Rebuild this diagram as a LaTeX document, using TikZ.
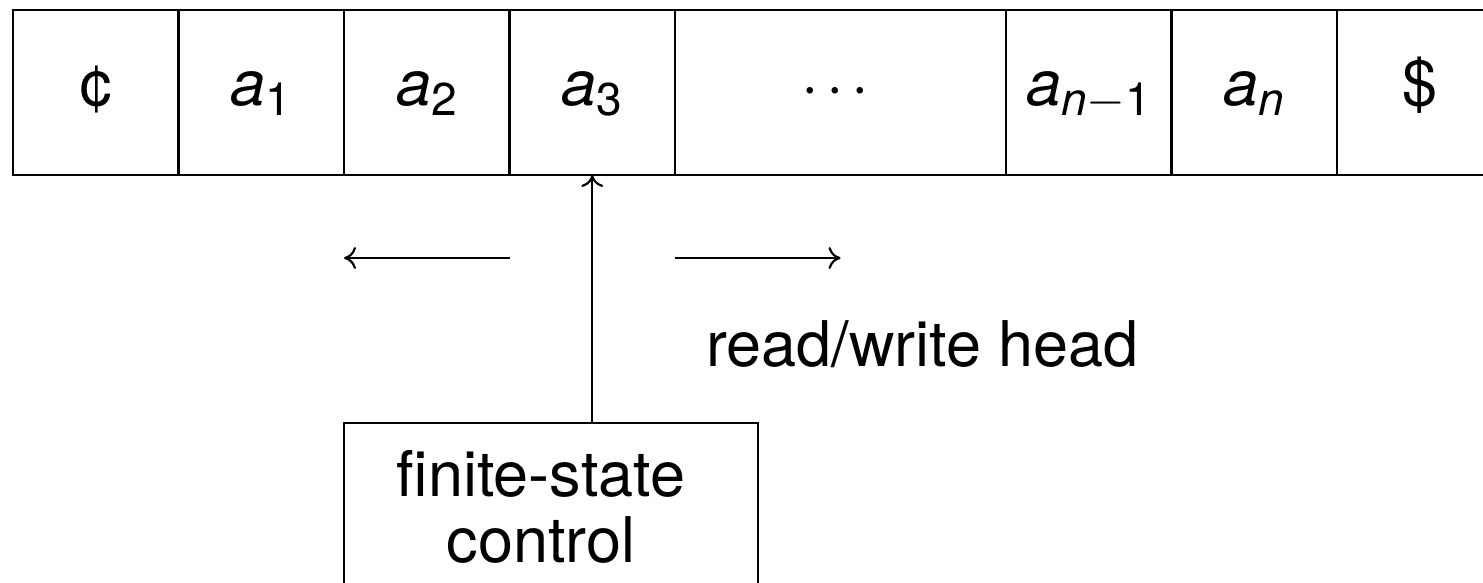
\documentclass[tikz,border=0pt]{standalone}
\usepackage{fontspec}
\setmainfont{TeX Gyre Heros}
\usetikzlibrary{arrows.meta}
\newcommand{\tmsub}[1]{\raisebox{-5.5pt}{\fontsize{23}{25}\selectfont #1}}
\begin{document}
\begin{tikzpicture}[x=0.5pt,y=-0.5pt,line width=1.1pt,
  every node/.style={font=\fontsize{31.5}{33}\selectfont},
  cell/.style={draw,inner sep=0pt,outer sep=0pt,minimum width=82.75pt,minimum height=82.5pt,text height=22pt,text depth=9.5pt},
  widecell/.style={cell,minimum width=165.5pt},
  tip/.style={-{Computer Modern Rightarrow[length=6pt,width=11pt]}}]
\clip (0,0) rectangle (1483,583);
% tape
\node[cell] (c0) at (95.75,92.5) {¢};
\node[cell] (a1) at (261.25,92.5) {{\itshape a}\tmsub{1}};
\node[cell] (a2) at (426.75,92.5) {{\itshape a}\tmsub{2}};
\node[cell] (a3) at (592.25,92.5) {{\itshape a}\tmsub{3}};
\node[widecell] (dots) at (840.5,92.5) {\raisebox{-1pt}{\kern-5pt·\kern3.8pt·\kern3.8pt·}};
\node[cell] (an1) at (1088.75,92.5) {{\itshape a}\tmsub{{\itshape n}$-$1}};
\node[cell] (an) at (1254.25,92.5) {{\itshape a}\tmsub{\itshape n}};
\node[cell] (end) at (1419.75,92.5) {\$};
% movement arrows
\coordinate (l0) at (509.5,258);
\coordinate (l1) at (344,258);
\coordinate (r0) at (675,258);
\coordinate (r1) at (840.5,258);
\draw[tip] (l0) -- (l1);
\draw[tip] (r0) -- (r1);
% label
\node[anchor=base] (rw) at (922.5,366) {read/write head};
% finite-state control
\node[draw,inner sep=0pt,outer sep=0pt,minimum width=207pt,minimum height=120pt] (fsc) at (551,543) {};
\node[align=center,inner sep=0pt] (fsctext) at (541,506.5) {finite-state\\control};
\draw[tip] (fsc.north -| a3.south) -- (a3.south);
\end{tikzpicture}
\end{document}
